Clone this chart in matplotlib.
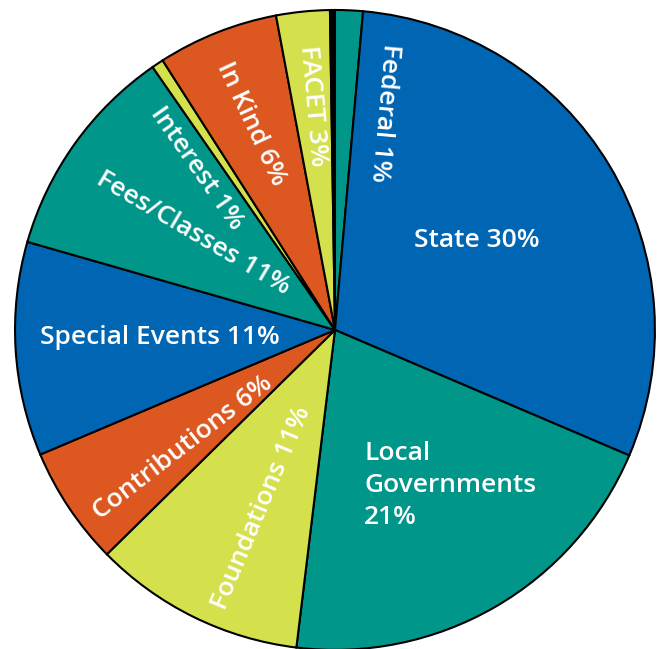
import matplotlib
matplotlib.use("Agg")
import matplotlib.pyplot as plt

# Datos (porcentaje de cada fuente de ingresos)
fuentes = ["Federal", "State", "Local\nGovernments", "Foundations", "Contributions",
           "Special Events", "Fees/Classes", "Interest", "In Kind", "FACET", "Other"]
valores = [1.4, 30.0, 20.5, 10.7, 6.0, 10.8, 10.9, 0.6, 6.1, 2.7, 0.25]
etiquetas_pct = ["1%", "30%", "21%", "11%", "6%", "11%", "11%", "1%", "6%", "3%", ""]

azul = "#0066b3"
verde = "#00968a"
lima = "#d4e04c"
naranja = "#dc5820"
colores = [verde, azul, verde, lima, naranja, azul, verde, lima, naranja, lima, "#000000"]

# posicion (x, y en unidades del radio) y rotacion de cada etiqueta
pos_etiquetas = [(0.153, 0.678), (0.444, 0.278), (0.091, -0.487), (-0.228, -0.558),
                 (-0.475, -0.369), (-0.547, -0.025), (-0.444, 0.303), (-0.431, 0.506),
                 (-0.2625, 0.644), (-0.069, 0.70)]
rotaciones = [-95, 0, 0, 67, 37.7, 0, -30.5, -55, -65, -85]

plt.rcParams['font.family'] = ['Open Sans', 'DejaVu Sans']

fig = plt.figure(figsize=(6.61, 6.49), dpi=100)
ax = fig.add_axes([0, 0, 1, 1])

ax.pie(valores, colors=colores, startangle=90, counterclock=False,
       wedgeprops={'edgecolor': 'black', 'linewidth': 1.5})

for i in range(len(pos_etiquetas)):
    x, y = pos_etiquetas[i]
    if fuentes[i].startswith("Local"):
        texto = fuentes[i] + "\n" + etiquetas_pct[i]
        ax.text(x, y, texto, ha='left', va='center', color='white', fontsize=19,
                fontweight='semibold', linespacing=1.38)
    else:
        texto = fuentes[i] + " " + etiquetas_pct[i]
        ax.text(x, y, texto, ha='center', va='center', rotation=rotaciones[i],
                rotation_mode='anchor', color='white', fontsize=19, fontweight='semibold')

ax.set_xlim(-1.047, 1.019)
ax.set_ylim(-0.997, 1.031)
ax.set_aspect('equal', adjustable='box')
ax.axis('off')

plt.savefig('out.png', dpi=100)
